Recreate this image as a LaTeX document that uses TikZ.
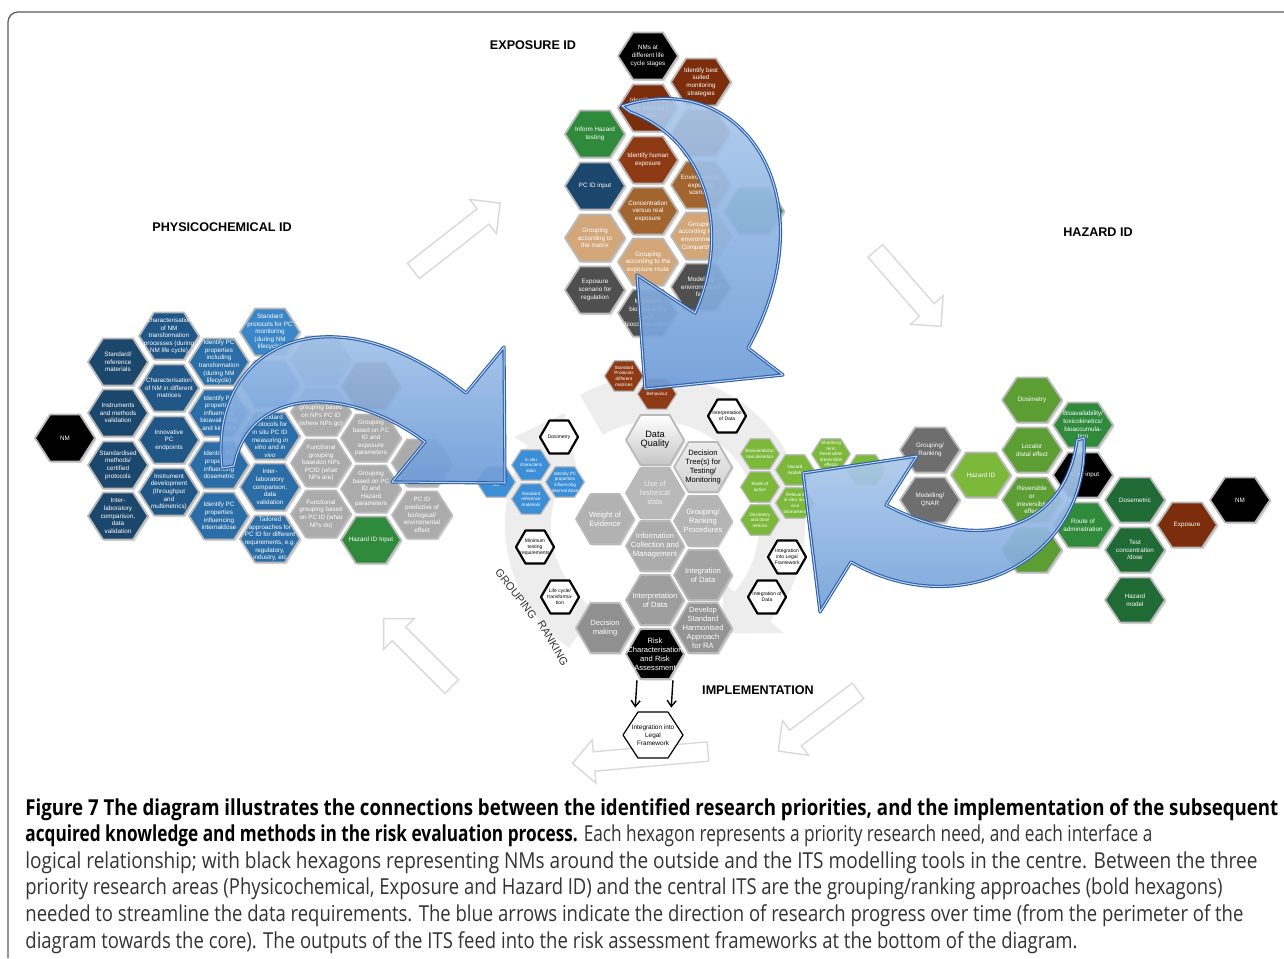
\documentclass[tikz,border=0pt]{standalone}
\usepackage{fontspec}
\setmainfont{Liberation Sans}
\newfontfamily\capfont{Open Sans}
\usepackage{graphicx}
\usetikzlibrary{positioning}
\usetikzlibrary{shapes.arrows}
\usetikzlibrary{shadows}
\usetikzlibrary{arrows.meta}

\definecolor{pcnavy}{HTML}{1C476C}
\definecolor{pcdeep}{HTML}{215786}
\definecolor{pcmid}{HTML}{2B6DA6}
\definecolor{pclight}{HTML}{3A86C6}
\definecolor{pcsmall}{HTML}{3C8ED6}
\definecolor{fgrey}{HTML}{ABABAB}
\definecolor{exbrown}{HTML}{7B2D0C}
\definecolor{exrust}{HTML}{8E3B15}
\definecolor{exmid}{HTML}{A3652F}
\definecolor{extan}{HTML}{D3A77A}
\definecolor{exdark}{HTML}{4F4F4F}
\definecolor{hzgreen}{HTML}{2F8A3C}
\definecolor{hzmid}{HTML}{5C9E34}
\definecolor{hzlime}{HTML}{7CB93B}
\definecolor{hzdeep}{HTML}{1F6A35}
\definecolor{hzgrey}{HTML}{6E6E6E}
\definecolor{arrowblue}{HTML}{6F9DD8}
\definecolor{arrowtop}{HTML}{B3CEEE}
\definecolor{arrowedge}{HTML}{2C5FAA}
\definecolor{arrowlight}{HTML}{C3D8F2}
\definecolor{capgrey}{HTML}{333333}

% hexagon size (half width, half height, in px) and text font
\def\hexa{30}
\def\hexb{23.5}
\newcommand{\hexfont}{\fontsize{3.15}{3.8}\selectfont}

% hexagon cell: [text colour]{name}{x}{y}{fill options}{text}
\newcommand{\hexcell}[6][white]{%
  \path[hexpath, #5] (#3,#4) +(-\hexa,0) -- +(-\hexa/2,-\hexb) -- +(\hexa/2,-\hexb)
    -- +(\hexa,0) -- +(\hexa/2,\hexb) -- +(-\hexa/2,\hexb) -- cycle;
  \node[hextext, text = #1] (#2) at (#3,#4) {#6};}

\tikzset {
  hexpath/.style = {
    draw = gray!55,
    line width = 0.9pt,
    line join = round,
    drop shadow = {shadow xshift = 0.8pt, shadow yshift = -0.8pt, opacity = 0.3}
  },
  hextext/.style = {
    align = center,
    inner sep = 0,
    font = \hexfont,
    minimum width = \hexa*1pt,
    minimum height = \hexb*1pt
  },
  % big curved blue arrows
  bigarrow/.style = {
    top color = arrowtop,
    bottom color = arrowblue,
    fill opacity = 0.93,
    draw = arrowedge,
    line width = 1.6pt,
    line join = round,
    postaction = {draw = arrowlight, line width = 0.5pt}
  },
  % pale outline arrows round the diagram
  ghost arrow/.style = {
    single arrow,
    draw = gray!30,
    line width = 0.7pt,
    fill = white,
    inner xsep = 0,
    inner ysep = 4.5pt,
    single arrow head extend = 6pt
  },
  ring band/.style = {
    fill = gray!14
  },
  ring label/.style = {
    inner sep = 0,
    text = black!80,
    font = \fontsize{5.5}{6}\selectfont
  },
  title/.style = {
    font = \bfseries\fontsize{6.3}{7}\selectfont
  },
  capline/.style = {
    anchor = base west,
    inner sep = 0,
    text = capgrey,
    font = \capfont\fontsize{11}{13}\selectfont
  },
  legal arrow/.style = {
    -{Straight Barb[length = 3pt, width = 4.5pt]},
    line width = 0.7pt,
    shorten <= 0.5pt,
    shorten >= 2pt
  },
  frame/.style = {
    draw = gray!70!black,
    line width = 0.6pt,
    rounded corners = 5pt
  }
}

\begin{document}
\begin{tikzpicture}[x = 0.5pt, y = -0.5pt]
  \useasboundingbox (0,0) rectangle (1284,958);
  \draw[frame] (1284,12) -- (8,12) -- (8,958);

  % pale arrows between the areas
  \node[ghost arrow, minimum height = 55pt, rotate = 38] (ghostPE) at (453,240) {};
  \node[ghost arrow, minimum height = 50pt, rotate = -49] (ghostEH) at (905,285) {};
  \node[ghost arrow, minimum height = 50pt, rotate = -143] (ghostHI) at (822,718) {};
  \node[ghost arrow, minimum height = 68pt, rotate = 185] (ghostBot) at (645,757) {};
  \node[ghost arrow, minimum height = 48pt, rotate = 135] (ghostIP) at (421,656) {};

  % grey ring round the ITS
  \coordinate (ring) at (655,525);
  \begin{scope}[shift = {(ring)}]
    \fill[ring band] (125:104) -- (125:150) arc (125:212:150) -- (212:166) -- (231:144)
      -- (212:90) -- (212:104) arc (212:125:104) -- cycle;
    \fill[ring band] (240:104) -- (240:150) arc (240:400:150) -- (400:168) -- (418:128)
      -- (400:88) -- (400:104) arc (400:240:104) -- cycle;
  \end{scope}
  \node[ring label, rotate = -52] (ringGroup) at (516,594) {GROUPING};
  \node[ring label, rotate = -60] (ringRank) at (553,643) {RANKING};

  % physicochemical ID
  \hexcell{pcNM}{65}{438}{fill = black}{NM}
  \hexcell{pcStdRef}{118}{362}{fill = pcnavy}{Standard/\\reference\\materials}
  \hexcell{pcInstr}{118}{413}{fill = pcnavy}{Instruments\\and methods\\validation}
  \hexcell{pcStdMeth}{118}{465}{fill = pcnavy}{Standardised\\methods/\\certified\\protocols}
  \hexcell{pcInterA}{118}{516}{fill = pcnavy}{Inter-\\laboratory\\comparison,\\data\\validation}
  \hexcell{pcCharTr}{169}{336}{fill = pcdeep}{Characterisation\\of NM\\transformation\\processes (during\\NM life cycle)}
  \hexcell{pcCharMat}{169}{388}{fill = pcdeep}{Characterisation\\of NM in different\\matrices}
  \hexcell{pcEndp}{169}{440}{fill = pcdeep}{Innovative\\PC\\endpoints}
  \hexcell{pcDev}{169}{492}{fill = pcdeep}{Instrument\\development\\(throughput\\and\\multimetrics)}
  \hexcell{pcIdTr}{219}{362}{fill = pcmid}{Identify PC\\properties\\including\\transformation\\(during NM\\lifecycle)}
  \hexcell{pcIdBio}{219}{413}{fill = pcmid}{Identify PC\\properties\\influencing\\bioavailability\\and kinetics}
  \hexcell{pcIdDose}{219}{465}{fill = pcmid}{Identify PC\\properties\\influencing\\dosemetric}
  \hexcell{pcIdInt}{219}{516}{fill = pcmid}{Identify PC\\properties\\influencing\\internaldose}
  \hexcell{pcProt}{270}{332}{fill = pclight}{Standard\\protocols for PC\\monitoring\\(during NM\\lifecycle)}
  \hexcell{pcHid}{270}{384}{fill = pclight}{}
  \hexcell{pcInSitu}{270}{436}{fill = pcmid}{Standard\\protocols for\\in situ PC ID\\measuring \textit{in}\\\textit{vitro} and \textit{in}\\\textit{vivo}}
  \hexcell{pcInterB}{270}{487}{fill = pcmid}{Inter-\\laboratory\\comparison,\\data\\validation}
  \hexcell{pcTail}{270}{539}{fill = pcmid}{Tailored\\approaches for\\PC ID for different\\requirements, e.g.\\regulatory,\\industry, etc}
  \hexcell{pcFgHid}{321}{360}{fill = fgrey}{}
  \hexcell{pcFgGo}{321}{412}{fill = fgrey}{Functional\\grouping based\\on NPs PC ID\\(where NPs go)}
  \hexcell{pcFgAre}{321}{463}{fill = fgrey}{Functional\\grouping\\basedon NPs\\PCID (what\\NPs are)}
  \hexcell{pcFgDo}{321}{514}{fill = fgrey}{Functional\\grouping based\\on PC ID (what\\NPs do)}
  \hexcell{pcExpHid}{371}{386}{fill = exrust}{}
  \hexcell{pcGrExp}{371}{438}{fill = fgrey}{Grouping\\based on PC\\ID and\\exposure\\parameters}
  \hexcell{pcGrHaz}{371}{489}{fill = fgrey}{Grouping\\based on PC\\ID and\\Hazard\\parameters}
  \hexcell{pcHazIn}{371}{540}{fill = hzgreen}{Hazard ID Input}
  \hexcell{pcFgHidB}{422}{463}{fill = fgrey}{}
  \hexcell{pcPred}{422}{515}{fill = fgrey}{PC ID\\predictive of\\biological/\\enviromental\\effect}

  % exposure ID
  \hexcell{exNM}{648}{56}{fill = black}{NMs at\\different life\\cycle stages}
  \hexcell{exMonit}{701}{82}{fill = exbrown}{Identify best\\suited\\monitoring\\strategies}
  \hexcell{exRoutes}{648}{108}{fill = exbrown}{Identify most\\likely exposure\\routes}
  \hexcell{exHidA}{701}{133}{fill = exbrown}{}
  \hexcell{exInform}{595}{134}{fill = hzgreen}{Inform Hazard\\testing}
  \hexcell{exHuman}{648}{160}{fill = exrust}{Identify human\\exposure}
  \hexcell{exPCin}{595}{186}{fill = pcnavy}{PC ID input}
  \hexcell{exEnvScen}{701}{185}{fill = exmid}{Environmental\\exposure\\scenario}
  \hexcell{exConc}{648}{211}{fill = exmid}{Concentration\\versus real\\exposure}
  \hexcell{exGreen}{754}{211}{fill = hzgreen}{}
  \hexcell{exGrMat}{595}{238}{fill = extan}{Grouping\\according to\\the matrix}
  \hexcell{exGrComp}{701}{236}{fill = extan}{Grouping\\according to the\\environmental\\Compartment}
  \hexcell{exGrRoute}{648}{262}{fill = extan}{Grouping\\according to the\\exposure route}
  \hexcell{exScen}{595}{290}{fill = exdark}{Exposure\\scenario for\\regulation}
  \hexcell{exEnvMod}{701}{287}{fill = exdark}{Modelling\\environmental\\fate}
  \hexcell{exBioMod}{648}{313}{fill = exdark}{Modelling\\bioavailability\\and\\bioconcentration}

  % hazard ID
  \begin{scope}
    \def\hexb{22.5}
    \hexcell{hzGroup}{930}{450}{fill = hzgrey}{Grouping/\\Ranking}
    \hexcell{hzModel}{930}{500}{fill = hzgrey}{Modelling/\\QNAR}
    \hexcell{hzId}{981}{475}{fill = hzlime}{Hazard ID}
    \hexcell{hzDosim}{1032}{400}{fill = hzmid}{Dosimetry}
    \hexcell{hzLocal}{1032}{450}{fill = hzmid}{Localor\\distal effect}
    \hexcell{hzRev}{1032}{500}{fill = hzmid}{Reversible\\or\\irreversible\\effect}
    \hexcell{hzHid}{1032}{550}{fill = hzmid}{}
    \hexcell{hzBio}{1083}{425}{fill = hzgreen}{Bioavailability/\\toxicokinetics/\\bioaccumula-\\tion}
    \hexcell{hzPCin}{1083}{475}{fill = black}{PC ID input}
    \hexcell{hzRoute}{1083}{525}{fill = hzgreen}{Route of\\administration}
    \hexcell{hzDosem}{1135}{500}{fill = hzdeep}{Dosemetric}
    \hexcell{hzTest}{1135}{550}{fill = hzdeep}{Test\\concentration\\/dose}
    \hexcell{hzModelB}{1135}{600}{fill = hzdeep}{Hazard\\model}
    \hexcell{hzExpo}{1187}{525}{fill = exbrown}{Exposure}
    \hexcell{hzNM}{1240}{500}{fill = black}{NM}
  \end{scope}

  % ITS in the centre
  \begin{scope}
    \def\hexa{29}\def\hexb{25}
    \def\hexfont{\fontsize{3.8}{4.5}\selectfont}
    \hexcell[black]{itsQual}{655}{440}{top color = white, bottom color = gray!45}{\fontsize{4.6}{5.4}\selectfont Data\\\fontsize{4.6}{5.4}\selectfont Quality}
    \hexcell[black]{itsTree}{703}{467}{top color = gray!15, bottom color = gray!35}{Decision\\Tree(s) for\\Testing/\\Monitoring}
    \hexcell[gray!15]{itsHist}{655}{493}{fill = gray!55}{Use of\\historical\\data}
    \hexcell{itsWoe}{605}{519}{fill = gray!60}{Weight of\\Evidence}
    \hexcell{itsRank}{703}{521}{fill = gray!58}{Grouping/\\Ranking\\Procedures}
    \hexcell{itsInfo}{655}{546}{fill = gray!65}{Information\\Collection and\\Management}
    \hexcell{itsInteg}{703}{575}{fill = gray!72}{Integration\\of Data}
    \hexcell{itsInterp}{655}{600}{fill = gray!76}{Interpretation\\of Data}
    \hexcell{itsDecide}{605}{628}{fill = gray!87}{Decision\\making}
    \hexcell{itsDevelop}{703}{628}{fill = gray!84}{Develop\\Standard\\Harmonised\\Approach\\for RA}
    \hexcell{risk}{655}{654}{fill = black}{Risk\\Characterisation\\and Risk\\Assessment}
  \end{scope}

  % bold grouping / ranking hexagons
  \begin{scope}[hexpath/.style = {draw = black, line width = 1.1pt, line join = round}]
    \def\hexa{19}\def\hexb{16.5}
    \def\hexfont{\fontsize{2.5}{3}\selectfont}
    \hexcell[black]{smDosim}{559}{437}{fill = white}{Dosimetry}
    \hexcell[black]{smInterp}{727}{416}{fill = white}{Interpretation\\of Data}
    \hexcell[black]{smMinimum}{535}{547}{fill = white}{Minimum\\testing\\requirements}
    \hexcell[black]{smLife}{560}{597}{fill = white}{Life cycle/\\transforma-\\tion}
    \hexcell[black]{smLegal}{787}{557}{fill = white}{Integration\\into Legal\\Framework}
    \hexcell[black]{smInteg}{767}{597}{fill = white}{Integration of\\Data}
  \end{scope}
  \begin{scope}[hexpath/.style = {draw = gray!50, line width = 0.6pt, line join = round}]
    \def\hexa{19.5}\def\hexb{15.2}
    \def\hexfont{\fontsize{2.3}{2.8}\selectfont}
    \hexcell{smChar}{496}{482}{fill = pcsmall}{characteris-\\tics}
    \hexcell{smInSitu}{531}{465}{fill = pcsmall}{in situ\\characteris\\ation}
    \hexcell{smStdRef}{531}{499}{fill = pcsmall}{Standard\\reference\\materials}
    \hexcell{smIdPC}{565}{482}{fill = pcsmall}{Identify PC\\properties\\influencing\\internal dose}
    \hexcell{smProt}{624}{376}{fill = exrust}{Standard\\Protocols\\different\\matrices}
    \hexcell{smBehav}{657}{394}{fill = exrust}{Behaviour}
    \hexcell{smBio}{760}{454}{fill = hzlime}{Bioavailability/\\toxicokinetics}
    \hexcell{smMode}{760}{487}{fill = hzlime}{Mode of\\action}
    \hexcell{smDose}{760}{520}{fill = hzlime}{Dosimetry\\and dose\\metrics}
    \hexcell{smHazMod}{795}{470}{fill = hzlime}{Hazard\\models}
    \hexcell{smRelev}{795}{503}{fill = hzlime}{Relevant\\in vitro and\\vivo\\biomarkers}
    \hexcell{smShort}{831}{454}{fill = hzlime}{Shortlong\\term\\Reversible/\\irreversible\\effects}
    \hexcell{smOr}{866}{470}{fill = hzlime}{}
  \end{scope}

  % legal framework at the bottom
  \begin{scope}[hexpath/.style = {draw = black, line width = 0.6pt, line join = round}]
    \def\hexb{23}
    \def\hexfont{\fontsize{3.2}{3.9}\selectfont}
    \hexcell[black]{legal}{653}{735}{fill = white}{Integration into\\Legal\\Framework}
  \end{scope}
  \draw[legal arrow] ([xshift = -9pt]risk.south) -- ([xshift = -9pt]legal.north);
  \draw[legal arrow] ([xshift = 9pt]risk.south) -- ([xshift = 9pt]legal.north);

  % blue arrows towards the core
  \draw[bigarrow] (222,468) .. controls (208,345) and (330,285) .. (466,393) -- (504,347)
    -- (505,483) -- (392,482) -- (425,442) .. controls (350,385) and (250,385) .. (234,466) -- cycle;
  \draw[bigarrow] (622,106) .. controls (745,65) and (830,200) .. (748,348) -- (783,375)
    -- (645,389) -- (637,275) -- (695,313) .. controls (732,230) and (706,140) .. (630,112) -- cycle;
  \draw[bigarrow] (1084,438) .. controls (1090,560) and (960,625) .. (851,562) -- (820,612)
    -- (803,473) -- (917,456) -- (886,505) .. controls (980,555) and (1065,530) .. (1077,440) -- cycle;

  % area titles
  \node[title] (exTitle) at (533,45) {EXPOSURE ID};
  \node[title] (pcTitle) at (222,227) {PHYSICOCHEMICAL ID};
  \node[title] (hzTitle) at (1098,232) {HAZARD ID};
  \node[title] (implTitle) at (758,690) {IMPLEMENTATION};

  % caption
  \node[capline] (capA) at (25,815) {\resizebox{626.5pt}{\height}{\bfseries\color{black}Figure 7 The diagram illustrates the connections between the identified research priorities, and the implementation of the subsequent}};
  \node[capline] (capB) at (25,841.6) {\resizebox{563.5pt}{\height}{{\bfseries\color{black}acquired knowledge and methods in the risk evaluation process.} Each hexagon represents a priority research need, and each interface a}};
  \node[capline] (capC) at (25,868.2) {\resizebox{616pt}{\height}{logical relationship; with black hexagons representing NMs around the outside and the ITS modelling tools in the centre. Between the three}};
  \node[capline] (capD) at (25,894.8) {\resizebox{598.5pt}{\height}{priority research areas (Physicochemical, Exposure and Hazard ID) and the central ITS are the grouping/ranking approaches (bold hexagons)}};
  \node[capline] (capE) at (25,921.4) {\resizebox{609pt}{\height}{needed to streamline the data requirements. The blue arrows indicate the direction of research progress over time (from the perimeter of the}};
  \node[capline] (capF) at (25,948) {\resizebox{526pt}{\height}{diagram towards the core). The outputs of the ITS feed into the risk assessment frameworks at the bottom of the diagram.}};
\end{tikzpicture}
\end{document}
